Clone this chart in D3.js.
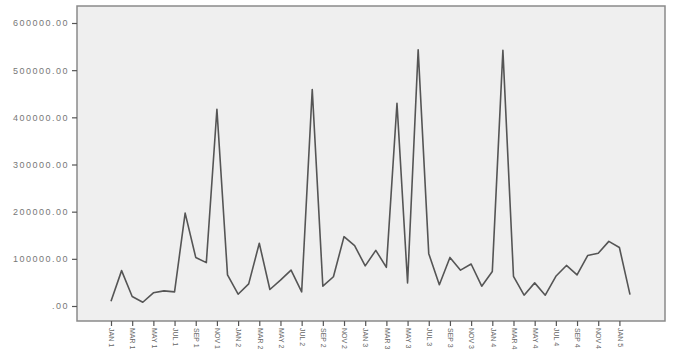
<!DOCTYPE html>
<html>
<head>
<meta charset="utf-8">
<script src="https://cdn.jsdelivr.net/npm/d3@7"></script>
<style>
  body { margin: 0; background: #fff; }
  svg { display: block; font-family: "Liberation Sans", Arial, sans-serif; }
</style>
</head>
<body>
<div id="chart"></div>
<script>
// monthly periods, JAN 1 .. FEB 5
const periods = [
  "JAN 1","FEB 1","MAR 1","APR 1","MAY 1","JUN 1","JUL 1","AUG 1","SEP 1","OCT 1","NOV 1","DEC 1",
  "JAN 2","FEB 2","MAR 2","APR 2","MAY 2","JUN 2","JUL 2","AUG 2","SEP 2","OCT 2","NOV 2","DEC 2",
  "JAN 3","FEB 3","MAR 3","APR 3","MAY 3","JUN 3","JUL 3","AUG 3","SEP 3","OCT 3","NOV 3","DEC 3",
  "JAN 4","FEB 4","MAR 4","APR 4","MAY 4","JUN 4","JUL 4","AUG 4","SEP 4","OCT 4","NOV 4","DEC 4",
  "JAN 5","FEB 5"
];

const values = [
  10000, 75000, 20000, 8000, 28000, 32000, 30000, 197000, 103000, 92000, 417000, 66000,
  25000, 47000, 133000, 35000, 55000, 76000, 30000, 459000, 42000, 62000, 147000, 128000,
  85000, 118000, 82000, 430000, 49000, 543000, 111000, 45000, 103000, 76000, 89000, 42000,
  73000, 542000, 63000, 23000, 49000, 23000, 63000, 86000, 66000, 107000, 112000, 137000,
  124000, 24000
];

const tickLabels = [
  "JAN 1","MAR 1","MAY 1","JUL 1","SEP 1","NOV 1",
  "JAN 2","MAR 2","MAY 2","JUL 2","SEP 2","NOV 2",
  "JAN 3","MAR 3","MAY 3","JUL 3","SEP 3","NOV 3",
  "JAN 4","MAR 4","MAY 4","JUL 4","SEP 4","NOV 4",
  "JAN 5"
];

const yTicks = [0, 100000, 200000, 300000, 400000, 500000, 600000];

const W = 674, H = 358;
const frame = { left: 77, right: 665, top: 6, bottom: 321 };

const svg = d3.select("#chart").append("svg")
  .attr("width", W)
  .attr("height", H);

// frame
svg.append("rect")
  .attr("x", frame.left)
  .attr("y", frame.top)
  .attr("width", frame.right - frame.left)
  .attr("height", frame.bottom - frame.top)
  .attr("fill", "#efefef")
  .attr("stroke", "#8a8a8a")
  .attr("stroke-width", 1.5);

const x = d3.scalePoint()
  .domain(periods)
  .range([111, 630]);

const y = d3.scaleLinear()
  .domain([0, 600000])
  .range([306, 23]);

// y axis
const fmt = d3.format(".2f");
const yAxis = svg.append("g")
  .attr("transform", `translate(${frame.left},0)`)
  .call(d3.axisLeft(y)
    .tickValues(yTicks)
    .tickSize(5)
    .tickPadding(3)
    .tickFormat(d => d === 0 ? ".00" : fmt(d)));
yAxis.select(".domain").remove();
yAxis.selectAll("line").attr("stroke", "#555").attr("stroke-width", 1.2);
yAxis.selectAll("text")
  .attr("fill", "#777")
  .style("font-size", "9px")
  .style("letter-spacing", "1.5px");

// x axis
const xAxis = svg.append("g")
  .attr("transform", `translate(0,${frame.bottom})`)
  .call(d3.axisBottom(x)
    .tickValues(tickLabels)
    .tickSize(5)
    .tickPadding(3));
xAxis.select(".domain").remove();
xAxis.selectAll("line").attr("stroke", "#555").attr("stroke-width", 1.2);
xAxis.selectAll("text")
  .attr("fill", "#666")
  .style("font-size", "7px")
  .attr("transform", "rotate(90)")
  .attr("text-anchor", "start")
  .attr("x", 7)
  .attr("y", 0)
  .attr("dy", "0.32em");

// line
const line = d3.line()
  .x((d, i) => x(periods[i]))
  .y(d => y(d));

svg.append("path")
  .datum(values)
  .attr("fill", "none")
  .attr("stroke", "#555")
  .attr("stroke-width", 1.6)
  .attr("stroke-linejoin", "round")
  .attr("d", line);
</script>
</body>
</html>
